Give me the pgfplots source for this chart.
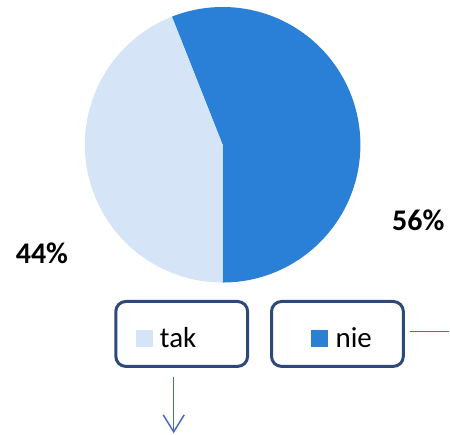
\documentclass[border=0pt]{standalone}
\usepackage{pgfplots}
\pgfplotsset{compat=1.18}
\usepackage{pgfplotstable}
\usetikzlibrary{arrows.meta}
\usepackage{fontspec}
\setmainfont{Carlito}
\definecolor{cnie}{RGB}{42,128,214}
\definecolor{ctak}{RGB}{213,229,247}
\definecolor{navy}{RGB}{47,72,122}
\definecolor{arr}{RGB}{74,108,184}
\pgfplotstableread{
label value
nie 56
tak 44
}\piedata
\begin{document}
\begin{tikzpicture}
\pgfplotstablegetelem{0}{value}\of\piedata \let\vnie\pgfplotsretval
\pgfplotstablegetelem{1}{value}\of\piedata \let\vtak\pgfplotsretval
\pgfmathsetmacro{\aA}{-90}
\pgfmathsetmacro{\aB}{-90+3.6*\vnie}
\pgfmathsetmacro{\aC}{\aB+3.6*\vtak}
\begin{axis}[
  x=1pt, y=1pt,
  xmin=0, xmax=450, ymin=0, ymax=435,
  hide axis, clip=false,
]
\path (axis cs:0,0) rectangle (axis cs:450,435);
\fill[cnie] (axis cs:223,290) -- ++(\aA:138pt) arc[start angle=\aA, end angle=\aB, radius=138pt] -- cycle;
\fill[ctak] (axis cs:223,290) -- ++(\aB:138pt) arc[start angle=\aB, end angle=\aC, radius=138pt] -- cycle;
\node[font=\fontsize{30}{36}\selectfont\bfseries] at (axis cs:419,214) {56\%};
\node[font=\fontsize{30}{36}\selectfont\bfseries] at (axis cs:42,181) {44\%};
\draw[navy, line width=3pt, rounded corners=10pt] (axis cs:116,68) rectangle (axis cs:248,133);
\draw[navy, line width=3pt, rounded corners=10pt] (axis cs:272,68) rectangle (axis cs:404,133);
\node[anchor=base west, inner sep=0pt, font=\fontsize{29}{35}\selectfont] at (axis cs:136,87) {\textcolor{ctak}{\rule{17pt}{17pt}}\hspace{7pt}tak};
\node[anchor=base west, inner sep=0pt, font=\fontsize{29}{35}\selectfont] at (axis cs:311,87) {\textcolor{cnie}{\rule{17pt}{17pt}}\hspace{8pt}nie};
\draw[arr, line width=1.5pt, -{Straight Barb[length=17pt, width=21pt]}] (axis cs:174,57) -- (axis cs:174,1);
\draw[arr, line width=1.5pt] (axis cs:411,103) -- (axis cs:450,103);
\end{axis}
\end{tikzpicture}
\end{document}
